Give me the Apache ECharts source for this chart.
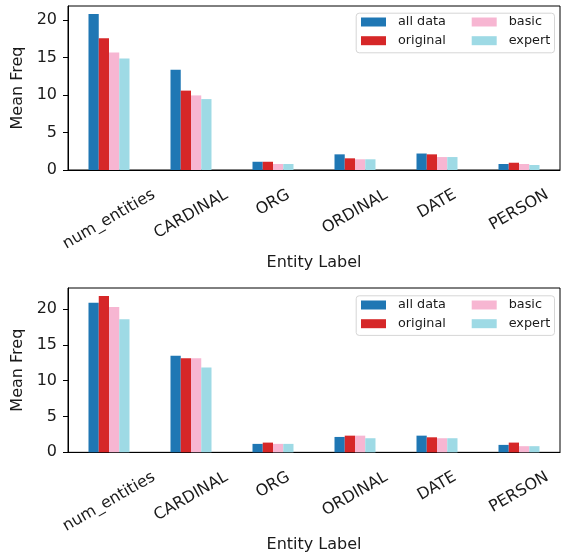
<!DOCTYPE html>
<html>
<head>
<meta charset="utf-8">
<script src="https://cdn.jsdelivr.net/npm/echarts@6/dist/echarts.min.js"></script>
<style>
  html, body { margin: 0; padding: 0; background: #fff; }
  #main { width: 562px; height: 554px; }
</style>
</head>
<body>
<div id="main"></div>
<script>
var categories = ['num_entities', 'CARDINAL', 'ORG', 'ORDINAL', 'DATE', 'PERSON'];
var seriesNames = ['all data', 'original', 'basic', 'expert'];
var yTicks = [0, 5, 10, 15, 20];

// upper panel
var allTop = [20.84, 13.4, 1.1, 2.09, 2.2, 0.8];
var originalTop = [17.6, 10.6, 1.1, 1.56, 2.09, 0.97];
var basicTop = [15.7, 9.96, 0.8, 1.43, 1.73, 0.8];
var expertTop = [14.9, 9.47, 0.8, 1.43, 1.73, 0.67];

// lower panel
var allBottom = [20.9, 13.48, 1.18, 2.15, 2.33, 1.04];
var originalBottom = [21.84, 13.15, 1.36, 2.33, 2.1, 1.36];
var basicBottom = [20.28, 13.15, 1.18, 2.33, 1.97, 0.86];
var expertBottom = [18.6, 11.86, 1.18, 1.97, 1.97, 0.86];

var colors = ['#1f77b4', '#d62728', '#f7b6d2', '#9edae5'];
var font = 'DejaVu Sans';
var ink = '#1a1a1a';

// matplotlib centres the rotated label box under the tick, echarts anchors at text end:
// shift each label down by a quarter of its width using rich padding
var ctx = document.createElement('canvas').getContext('2d');
ctx.font = '16px "' + font + '"';
var rich = {};
categories.forEach(function (c, i) {
    var d = 0.25 * ctx.measureText(c).width;
    rich['l' + i] = {
        fontFamily: font, fontSize: 16, color: ink,
        padding: [1.732 * d, d, 0, 0]
    };
});

function xAxisFor(gridIndex) {
    return {
        type: 'category',
        gridIndex: gridIndex,
        data: categories,
        name: 'Entity Label',
        nameLocation: 'middle',
        nameGap: 82,
        nameTextStyle: { fontFamily: font, fontSize: 16, color: ink },
        axisLine: { lineStyle: { color: '#000', width: 1 } },
        axisTick: { alignWithLabel: true, length: 5, lineStyle: { color: '#000' } },
        axisLabel: {
            interval: 0, rotate: 30, margin: 23.6,
            align: 'center', verticalAlign: 'middle',
            formatter: function (v, i) { return '{l' + i + '|' + v + '}'; },
            rich: rich
        },
        splitLine: { show: false }
    };
}

function yAxisFor(gridIndex, max) {
    return {
        type: 'value',
        gridIndex: gridIndex,
        min: 0,
        max: max,
        interval: 5,
        name: 'Mean Freq',
        nameLocation: 'middle',
        nameGap: 34,
        nameTextStyle: { fontFamily: font, fontSize: 16, color: ink },
        axisLine: { show: true, lineStyle: { color: '#000', width: 1 } },
        axisTick: { show: true, length: 5, lineStyle: { color: '#000' } },
        axisLabel: {
            fontFamily: font, fontSize: 16, color: ink, margin: 11,
            showMaxLabel: false,
            formatter: function (v) { return yTicks.indexOf(v) >= 0 ? String(v) : ''; }
        },
        splitLine: { show: false }
    };
}

function barsFor(gridIndex, lists) {
    return lists.map(function (vals, k) {
        return {
            name: seriesNames[k],
            type: 'bar',
            xAxisIndex: gridIndex,
            yAxisIndex: gridIndex,
            data: vals,
            barWidth: '12.5%',
            barGap: '0%',
            itemStyle: { color: colors[k] },
            emphasis: { disabled: true }
        };
    });
}

function legendFor(left, top, names) {
    return {
        orient: 'vertical',
        left: left,
        top: top,
        padding: 0,
        itemGap: 5.7,
        itemWidth: 25,
        itemHeight: 9,
        icon: 'rect',
        selectedMode: false,
        data: names,
        textStyle: { fontFamily: font, fontSize: 12.8, color: ink, padding: [0, 0, 0, 7] }
    };
}

function legendFrame(top) {
    return {
        type: 'rect',
        left: 355.7,
        top: top,
        z: 3,
        shape: { width: 198.3, height: 39.6, r: 3 },
        style: { fill: 'rgba(255,255,255,0.8)', stroke: '#d6d6d6', lineWidth: 1 }
    };
}

var myChart = echarts.init(document.getElementById('main'), null, { renderer: 'canvas' });
var option = {
    animation: false,
    backgroundColor: '#fff',
    grid: [
        { left: 68, top: 6, width: 492, height: 164, show: true, borderColor: '#000', borderWidth: 1 },
        { left: 68, top: 288, width: 492, height: 165.5, show: true, borderColor: '#000', borderWidth: 1 }
    ],
    xAxis: [xAxisFor(0), xAxisFor(1)],
    yAxis: [yAxisFor(0, 21.9), yAxisFor(1, 22.95)],
    legend: [
        legendFor(361, 15.5, ['all data', 'original']),
        legendFor(471.7, 15.5, ['basic', 'expert']),
        legendFor(361, 298.5, ['all data', 'original']),
        legendFor(471.7, 298.5, ['basic', 'expert'])
    ],
    graphic: [legendFrame(12.7), legendFrame(295.3)],
    series: barsFor(0, [allTop, originalTop, basicTop, expertTop])
        .concat(barsFor(1, [allBottom, originalBottom, basicBottom, expertBottom]))
};
myChart.setOption(option, true);
</script>
</body>
</html>
